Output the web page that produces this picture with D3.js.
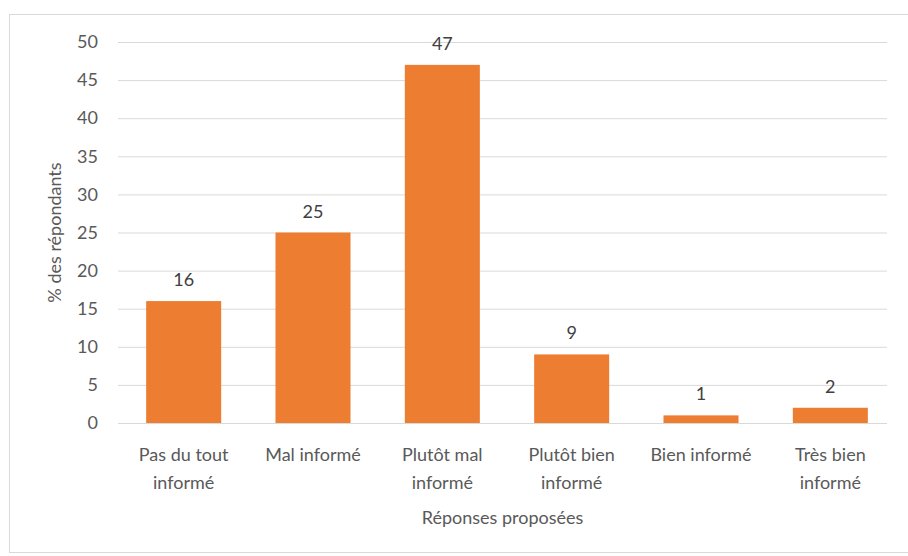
<!DOCTYPE html>
<html>
<head>
<meta charset="utf-8">
<script src="https://cdn.jsdelivr.net/npm/d3@7"></script>
<style>
  html, body { margin: 0; padding: 0; background: #fff; }
  svg { display: block; font-family: Lato, "Open Sans", "Liberation Sans", sans-serif; }
</style>
</head>
<body>
<svg id="chart" width="908" height="556"></svg>
<script>
// Survey responses: how well informed respondents feel
const categories = [
  ["Pas du tout", "informé"],
  ["Mal informé"],
  ["Plutôt mal", "informé"],
  ["Plutôt bien", "informé"],
  ["Bien informé"],
  ["Très bien", "informé"]
];
const values = [16, 25, 47, 9, 1, 2];
const yTicks = [0, 5, 10, 15, 20, 25, 30, 35, 40, 45, 50];
const yTitle = "% des répondants";
const xTitle = "Réponses proposées";

const svg = d3.select("#chart");
const plot = { left: 118, right: 887, top: 42, bottom: 423 };
const textColor = "#595959";
const barColor = "#ED7D31";
const fs = 18;

// chart frame
svg.append("rect")
  .attr("x", 9.5).attr("y", 14.5)
  .attr("width", 905).attr("height", 538)
  .attr("fill", "#fff").attr("stroke", "#d9d9d9").attr("stroke-width", 1);

const x = d3.scaleBand()
  .domain(d3.range(categories.length))
  .range([119, 895])
  .paddingInner(0.42).paddingOuter(0.21);

const y = d3.scaleLinear().domain([0, 50]).range([plot.bottom, plot.top]);

// horizontal gridlines + tick labels
const yAxis = d3.axisLeft(y).tickValues(yTicks)
  .tickSize(-(plot.right - plot.left)).tickPadding(20);
const gy = svg.append("g").attr("transform", `translate(${plot.left},0)`).call(yAxis);
gy.select(".domain").remove();
gy.selectAll(".tick line").attr("stroke", "#d9d9d9").attr("stroke-width", 1);
gy.selectAll(".tick text")
  .attr("fill", textColor).attr("font-size", fs)
  .attr("font-family", "Lato, sans-serif");

// bars
svg.append("g").selectAll("rect")
  .data(values)
  .join("rect")
  .attr("x", (d, i) => x(i))
  .attr("y", d => y(d))
  .attr("width", x.bandwidth())
  .attr("height", d => y(0) - y(d))
  .attr("fill", barColor);

// value labels
svg.append("g").selectAll("text")
  .data(values)
  .join("text")
  .attr("x", (d, i) => x(i) + x.bandwidth() / 2)
  .attr("y", d => y(d) - 15)
  .attr("text-anchor", "middle")
  .attr("font-size", fs)
  .attr("fill", "#404040")
  .text(d => d);

// category labels
const xAxis = d3.axisBottom(x).tickSize(0).tickFormat(() => "");
const gx = svg.append("g").attr("transform", `translate(0,${plot.bottom})`).call(xAxis);
gx.select(".domain").remove();
gx.selectAll(".tick").each(function(i) {
  const t = d3.select(this).select("text")
    .attr("fill", textColor).attr("font-size", fs)
    .attr("font-family", "Lato, sans-serif")
    .attr("y", 0).attr("dy", null);
  categories[i].forEach((line, k) => {
    t.append("tspan").attr("x", 0).attr("y", 38 + k * 28).text(line);
  });
});

// axis titles
svg.append("text")
  .attr("x", (plot.left + plot.right) / 2).attr("y", 524)
  .attr("text-anchor", "middle").attr("font-size", fs)
  .attr("fill", textColor).text(xTitle);

svg.append("text")
  .attr("transform", `translate(61,${(plot.top + plot.bottom) / 2}) rotate(-90)`)
  .attr("text-anchor", "middle").attr("font-size", fs)
  .attr("fill", textColor).text(yTitle);
</script>
</body>
</html>
